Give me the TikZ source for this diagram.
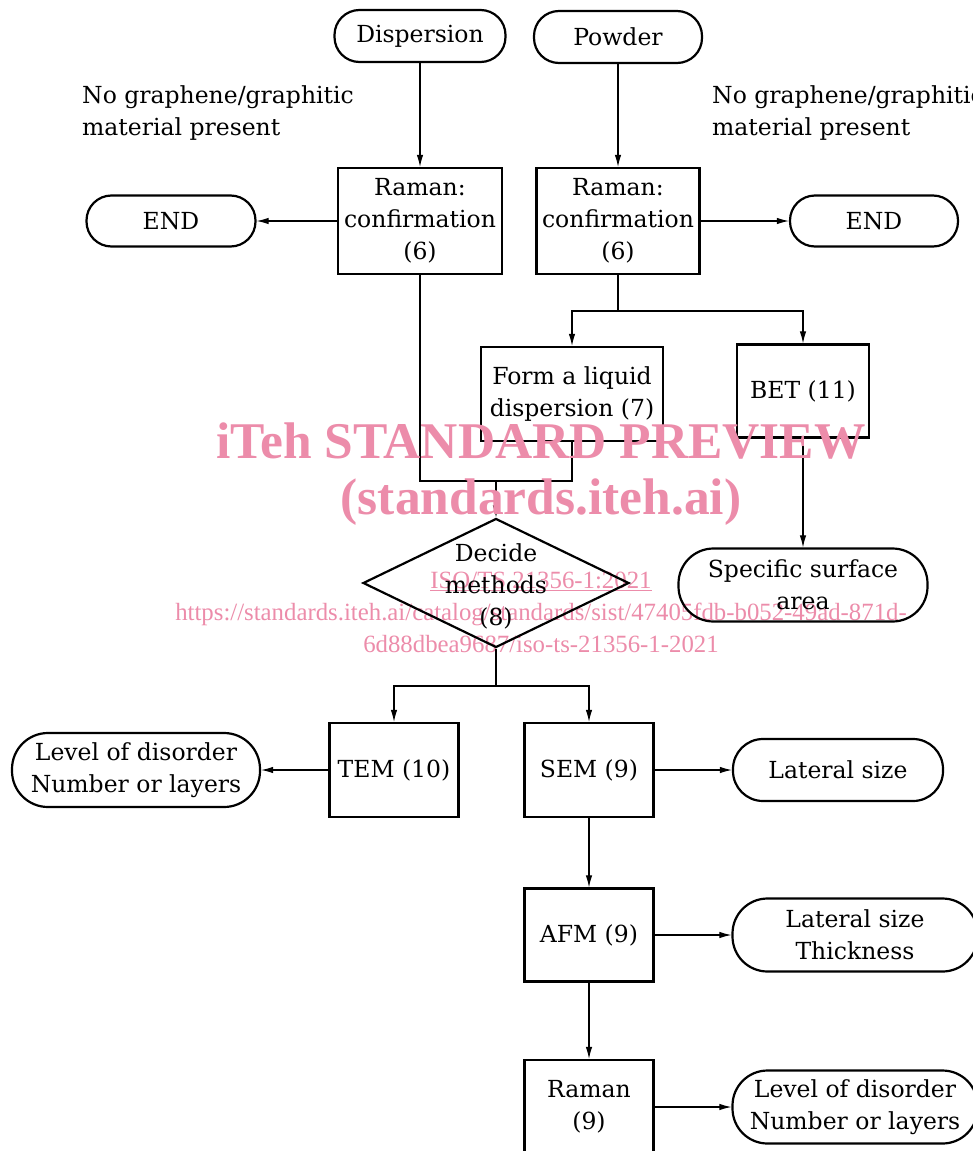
\documentclass[tikz,border=0pt]{standalone}
\usepackage{fontspec}
\usetikzlibrary{arrows.meta, shapes.geometric}
\setmainfont{DejaVu Serif}
\newfontfamily\wmfont{Liberation Serif}
\definecolor{wmpink}{RGB}{236,140,170}

\begin{document}
\begin{tikzpicture}[x=1pt,y=-1pt,
    every node/.append style={font=\fontsize{23.5}{32}\selectfont},
    proc/.style={draw,line width=2.2pt,align=center,inner sep=0pt},
    term/.style={draw,line width=2.2pt,align=center,inner sep=0pt,rounded corners=#1},
    term/.default=25pt,
    dec/.style={draw,diamond,line width=2.2pt,inner sep=0pt},
    arr/.style={line width=1.1pt,-{Latex[length=12pt,width=6.5pt]}},
    conn/.style={line width=1.1pt},
    wm/.style={text=wmpink,align=center,inner sep=0pt}]
    \useasboundingbox (0,0) rectangle (973,1151);
    % watermark, small lines (behind)
    \node[wm,font=\wmfont\fontsize{24.8}{32}\selectfont] (wmurl) at (541,612)
      {\underline{ISO/TS 21356-1:2021}\\https://standards.iteh.ai/catalog/standards/sist/47405fdb-b052-49ad-871d-\\6d88dbea9687/iso-ts-21356-1-2021};
    % top
    \node[term,minimum width=171pt,minimum height=52pt] (disp) at (420,36) {Dispersion};
    \node[term,minimum width=168pt,minimum height=52pt] (powd) at (618,37) {Powder};
    \node[align=left,anchor=west,inner sep=0pt] (nogL) at (82,113) {No graphene/graphitic\\material present};
    \node[align=left,anchor=west,inner sep=0pt] (nogR) at (712,113) {No graphene/graphitic\\material present};
    \node[proc,minimum width=164pt,minimum height=106pt] (ramL) at (420,221) {Raman:\\confirmation\\(6)};
    \node[proc,minimum width=163pt,minimum height=106pt] (ramR) at (618,221) {Raman:\\confirmation\\(6)};
    \node[term,minimum width=169pt,minimum height=51pt] (endL) at (171,221) {END};
    \node[term,minimum width=168pt,minimum height=51pt] (endR) at (874,221) {END};
    % middle
    \node[proc,minimum width=182pt,minimum height=94pt] (form) at (572,394) {Form a liquid\\dispersion (7)};
    \node[proc,minimum width=132pt,minimum height=93pt] (bet) at (803,391) {BET (11)};
    \node[term=35pt,minimum width=249pt,minimum height=73pt] (ssa) at (803,585) {Specific surface\\area};
    \node[dec,minimum width=266pt,minimum height=129pt] (dec) at (496,583) {};
    \node[align=center,inner sep=0pt] (dectext) at (496,586) {Decide\\methods\\(8)};
    % bottom
    \node[proc,minimum width=129pt,minimum height=94pt] (tem) at (394,770) {TEM (10)};
    \node[proc,minimum width=129pt,minimum height=94pt] (sem) at (589,770) {SEM (9)};
    \node[term=36pt,minimum width=248pt,minimum height=74pt] (lodL) at (136,770) {Level of disorder\\Number or layers};
    \node[term=30pt,minimum width=210pt,minimum height=62pt] (lat) at (838,770) {Lateral size};
    \node[proc,minimum width=129pt,minimum height=93pt] (afm) at (589,935) {AFM (9)};
    \node[term=35pt,minimum width=245pt,minimum height=73pt] (latth) at (855,935) {Lateral size\\Thickness};
    \node[proc,minimum width=129pt,minimum height=94pt] (ram9) at (589,1107) {Raman\\(9)};
    \node[term=35pt,minimum width=245pt,minimum height=73pt] (lodR) at (855,1107) {Level of disorder\\Number or layers};
    \coordinate (splitR) at (618,311);
    \coordinate (joinL) at (496,481);
    \coordinate (splitB) at (496,686);
    % top arrows
    \draw[arr] (disp) -- (ramL);
    \draw[arr] (powd) -- (ramR);
    \draw[arr] (ramL) -- (endL);
    \draw[arr] (ramR) -- (endR);
    % split to liquid and BET
    \draw[conn] (ramR) -- (splitR);
    \draw[arr] (splitR) -| (form);
    \draw[arr] (splitR) -| (bet);
    \draw[arr] (bet) -- (ssa);
    % join into decision
    \draw[conn] (ramL.south) -- (ramL.south |- joinL) -- (form.south |- joinL) -- (form.south);
    \draw[arr] (joinL) -- (dec);
    % split to TEM and SEM
    \draw[conn] (dec) -- (splitB);
    \draw[arr] (splitB) -| (tem);
    \draw[arr] (splitB) -| (sem);
    \draw[arr] (tem) -- (lodL);
    \draw[arr] (sem) -- (lat);
    \draw[arr] (sem) -- (afm);
    \draw[arr] (afm) -- (latth);
    \draw[arr] (afm) -- (ram9);
    \draw[arr] (ram9) -- (lodR);
    % watermark, big lines (on top)
    \node[wm,font=\wmfont\bfseries\fontsize{51.5}{60}\selectfont] (wmtitle) at (541,441) {iTeh STANDARD PREVIEW};
    \node[wm,font=\wmfont\bfseries\fontsize{51.5}{60}\selectfont] (wmsite) at (541,502) {(standards.iteh.ai)};
\end{tikzpicture}
\end{document}
